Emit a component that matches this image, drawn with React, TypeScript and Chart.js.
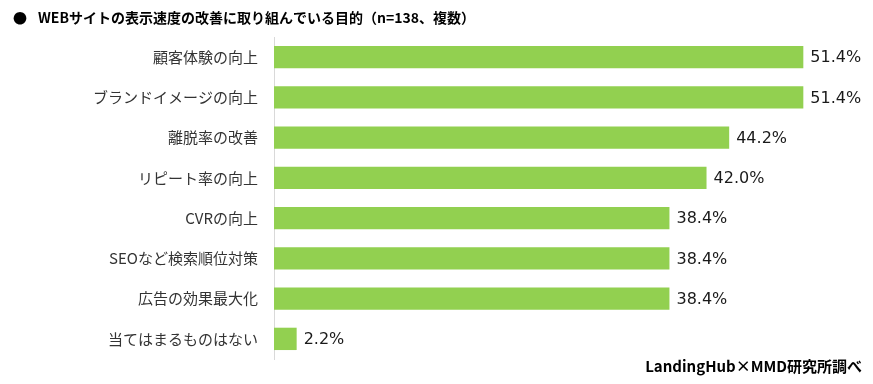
import React, { useEffect, useRef } from "react";
import { Chart, registerables } from "chart.js";

Chart.register(...registerables);

const TITLE = "WEBサイトの表示速度の改善に取り組んでいる目的（n=138、複数）";
const SOURCE = "LandingHub×MMD研究所調べ";
const categories = [
  "顧客体験の向上",
  "ブランドイメージの向上",
  "離脱率の改善",
  "リピート率の向上",
  "CVRの向上",
  "SEOなど検索順位対策",
  "広告の効果最大化",
  "当てはまるものはない",
];
const values = [51.4, 51.4, 44.2, 42.0, 38.4, 38.4, 38.4, 2.2];

const JP = "'Noto Sans CJK JP', 'Noto Sans', sans-serif";

const overlayPlugin = {
  id: "overlay",
  afterDatasetsDraw(chart: any) {
    const ctx = chart.ctx;
    const meta = chart.getDatasetMeta(0);
    ctx.save();
    ctx.fillStyle = "#1a1a1a";
    ctx.font = "16px 'DejaVu Sans', sans-serif";
    ctx.textAlign = "left";
    ctx.textBaseline = "middle";
    meta.data.forEach((bar: any, i: number) => {
      ctx.fillText(values[i].toFixed(1) + "%", bar.x + 7, bar.y + 1);
    });
    ctx.restore();
  },
  afterDraw(chart: any) {
    const ctx = chart.ctx;
    ctx.save();
    ctx.fillStyle = "#000";
    ctx.textBaseline = "middle";
    ctx.textAlign = "left";
    ctx.font = "bold 14px " + JP;
    ctx.fillText("●", 13, 18);
    ctx.fillText(TITLE, 38, 18);
    ctx.textAlign = "right";
    ctx.font = "bold 15px " + JP;
    ctx.fillText(SOURCE, 862, 366);
    ctx.restore();
  },
};

export default function App() {
  const ref = useRef<HTMLCanvasElement | null>(null);
  useEffect(() => {
    if (!ref.current) return;
    const chart = new Chart(ref.current, {
      type: "bar",
      data: {
        labels: categories,
        datasets: [
          {
            data: values,
            backgroundColor: "#92D050",
            borderWidth: 0,
            categoryPercentage: 1,
            barPercentage: 0.555,
          },
        ],
      },
      options: {
        indexAxis: "y",
        animation: false,
        responsive: false,
        devicePixelRatio: 1,
        layout: { padding: { top: 37, bottom: 21, right: 12, left: 0 } },
        plugins: {
          legend: { display: false },
          title: { display: false },
          tooltip: { enabled: false },
        },
        scales: {
          x: {
            display: false,
            min: 0,
            max: 57,
          },
          y: {
            afterFit(scale: any) {
              scale.width = 274;
            },
            grid: { display: true, color: "transparent", drawTicks: false },
            border: { display: true, color: "#d9d9d9", width: 1 },
            ticks: {
              padding: 16,
              color: "#333333",
              font: { family: JP, size: 15 },
            },
          },
        },
      },
      plugins: [overlayPlugin],
    } as any);
    return () => chart.destroy();
  }, []);
  return (
    <div style={{ position: "fixed", left: 0, top: 0, width: 873, height: 384, background: "#fff" }}>
      <canvas ref={ref} width={873} height={384} style={{ display: "block" }} />
    </div>
  );
}
